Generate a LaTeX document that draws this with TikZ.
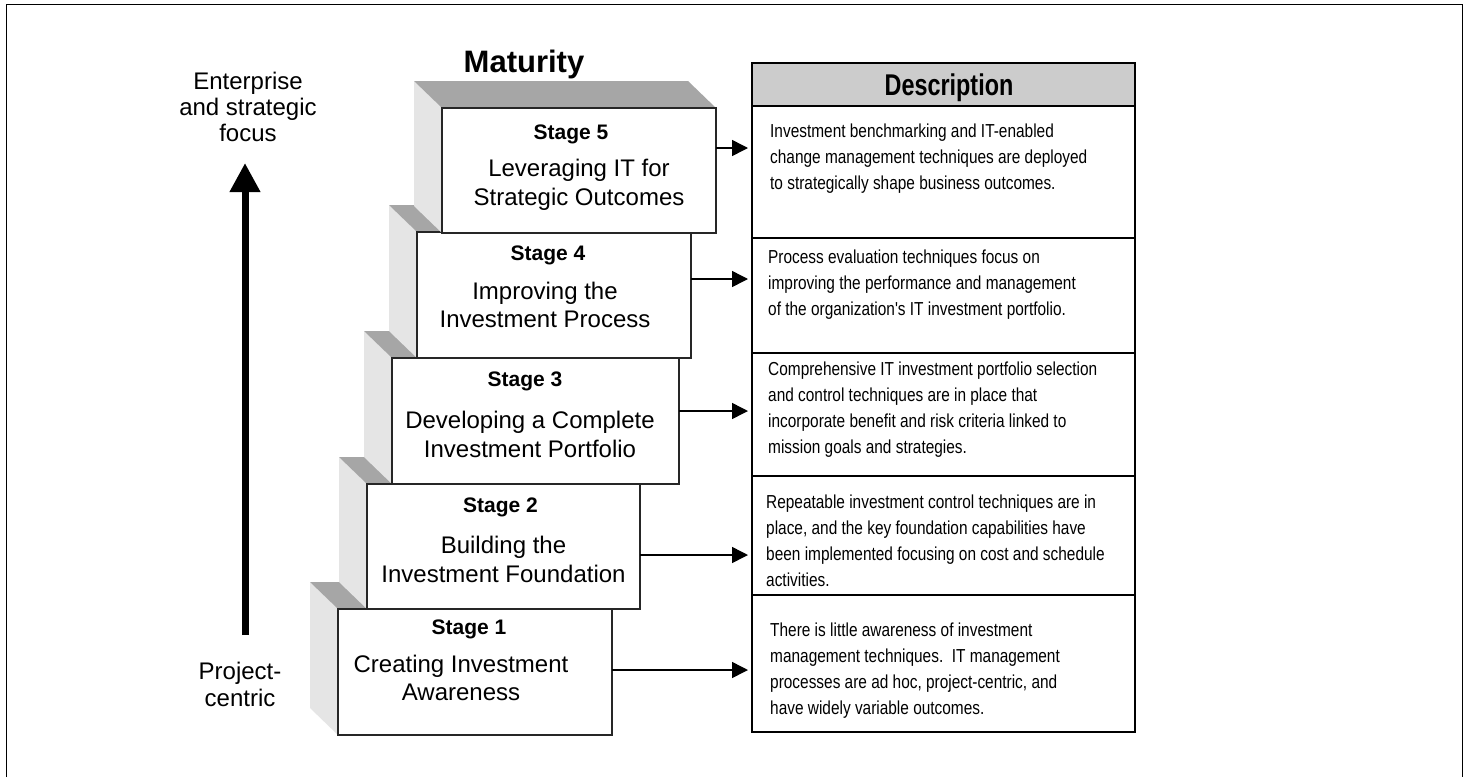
\documentclass[tikz,border=0pt]{standalone}
\usepackage{fontspec}
\setmainfont{Liberation Sans}
\newfontfamily\narrowfont[FakeStretch=0.82]{Liberation Sans}
\newfontfamily\narrowhead[FakeStretch=0.78]{Liberation Sans}
\usetikzlibrary{arrows.meta}
\newcommand\mkstage[5]{%
  \fill[sideface] (#2,#3) -- ++(-28,-27) -- ++(0,#5) -- ++(28,27) -- cycle;
  \fill[topface] (#2,#3) -- ++(-28,-27) -- ++(#4,0) -- ++(28,27) -- cycle;
  \node[stagebox, minimum width=#4pt, minimum height=#5pt] (#1) at (#2,#3) {};
}
\begin{document}
\begin{tikzpicture}[x=1pt,y=-1pt,
  stagebox/.style={draw=black!85, line width=1.5pt, fill=white, inner sep=0pt, outer sep=0pt, anchor=north west},
  topface/.style={fill=black!35},
  sideface/.style={fill=black!10},
  stitle/.style={font=\bfseries\fontsize{21}{25}\selectfont, inner sep=0pt, anchor=north},
  sbody/.style={font=\fontsize{24}{28.4}\selectfont, align=center, inner sep=0pt, anchor=north},
  cell/.style={draw, line width=1.5pt, anchor=north west, inner sep=0pt, outer sep=0pt, minimum width=383pt},
  dtext/.style={font=\narrowfont\fontsize{18.8}{26}\selectfont, align=left, anchor=north west, inner sep=0pt},
  side/.style={font=\fontsize{24}{26}\selectfont, align=center, inner sep=0pt, anchor=north},
  conn/.style={line width=1.5pt, -{Triangle[length=16pt,width=16pt]}}
]
\useasboundingbox (0,0) rectangle (1470,777);
\fill[white] (0,0) rectangle (1470,777);
% outer frame
\draw[line width=1pt] (6,777) -- (6,4) -- (1462,4) -- (1462,777);

% side labels and big arrow
\node[side] (ent) at (248,71.7) {Enterprise\\and strategic\\focus};
\node[side, font=\fontsize{24}{27}\selectfont] (proj) at (240,661.7) {Project-\\centric};
\coordinate (abot) at (245,635);
\coordinate (atop) at (245,163);
\draw[line width=7pt, -{Triangle[length=29pt,width=29pt]}] (abot) -- (atop);

% maturity title
\node[font=\bfseries\fontsize{31}{35}\selectfont, inner sep=0pt, anchor=north] (mat) at (524,50) {Maturity};

% stages (bottom to top)
\mkstage{s1}{338}{609}{274}{126}
\mkstage{s2}{367}{484}{273}{125}
\mkstage{s3}{392}{358}{287}{126}
\mkstage{s4}{417}{232}{274}{126}
\mkstage{s5}{442}{108}{274}{125}

\node[stitle] (t5) at (571,125) {Stage 5};
\node[sbody] (b5) at (579,159.3) {Leveraging IT for\\Strategic Outcomes};
\node[stitle] (t4) at (548,245.3) {Stage 4};
\node[sbody] (b4) at (545,282) {Improving the\\Investment Process};
\node[stitle] (t3) at (525,372) {Stage 3};
\node[sbody] (b3) at (530,411.3) {Developing a Complete\\Investment Portfolio};
\node[stitle] (t2) at (500.5,498) {Stage 2};
\node[sbody] (b2) at (503.5,536.3) {Building the\\Investment Foundation};
\node[stitle] (t1) at (469,619.7) {Stage 1};
\node[sbody] (b1) at (461,654.6) {Creating Investment\\Awareness};

% description table
\node[cell, fill=black!20, minimum height=43pt] (dh) at (752,63) {};
\node[cell, minimum height=132pt] (d5) at (752,106) {};
\node[cell, minimum height=115pt] (d4) at (752,238) {};
\node[cell, minimum height=123pt] (d3) at (752,353) {};
\node[cell, minimum height=119pt] (d2) at (752,476) {};
\node[cell, minimum height=137pt] (d1) at (752,595) {};

\node[font=\narrowhead\bfseries\fontsize{30}{34}\selectfont, inner sep=0pt, anchor=north] (dht) at (949,73.3) {Description};

\node[dtext] (x5) at (770,123.3) {Investment benchmarking and IT-enabled\\change management techniques are deployed\\to strategically shape business outcomes.};
\node[dtext] (x4) at (768,250) {Process evaluation techniques focus on\\improving the performance and management\\of the organization's IT investment portfolio.};
\node[dtext] (x3) at (768,361.7) {Comprehensive IT investment portfolio selection\\and control techniques are in place that\\incorporate benefit and risk criteria linked to\\mission goals and strategies.};
\node[dtext] (x2) at (766,495) {Repeatable investment control techniques are in\\place, and the key foundation capabilities have\\been implemented focusing on cost and schedule\\activities.};
\node[dtext] (x1) at (770,622.3) {There is little awareness of investment\\management techniques.\ \ IT management\\processes are ad hoc, project-centric, and\\have widely variable outcomes.};

% connectors
\coordinate (a5) at (748,148);
\coordinate (a4) at (748,279);
\coordinate (a3) at (748,411);
\coordinate (a2) at (748,555);
\coordinate (a1) at (748,670);
\draw[conn] (s5.east |- a5) -- (a5);
\draw[conn] (s4.east |- a4) -- (a4);
\draw[conn] (s3.east |- a3) -- (a3);
\draw[conn] (s2.east |- a2) -- (a2);
\draw[conn] (s1.east |- a1) -- (a1);
\end{tikzpicture}
\end{document}
